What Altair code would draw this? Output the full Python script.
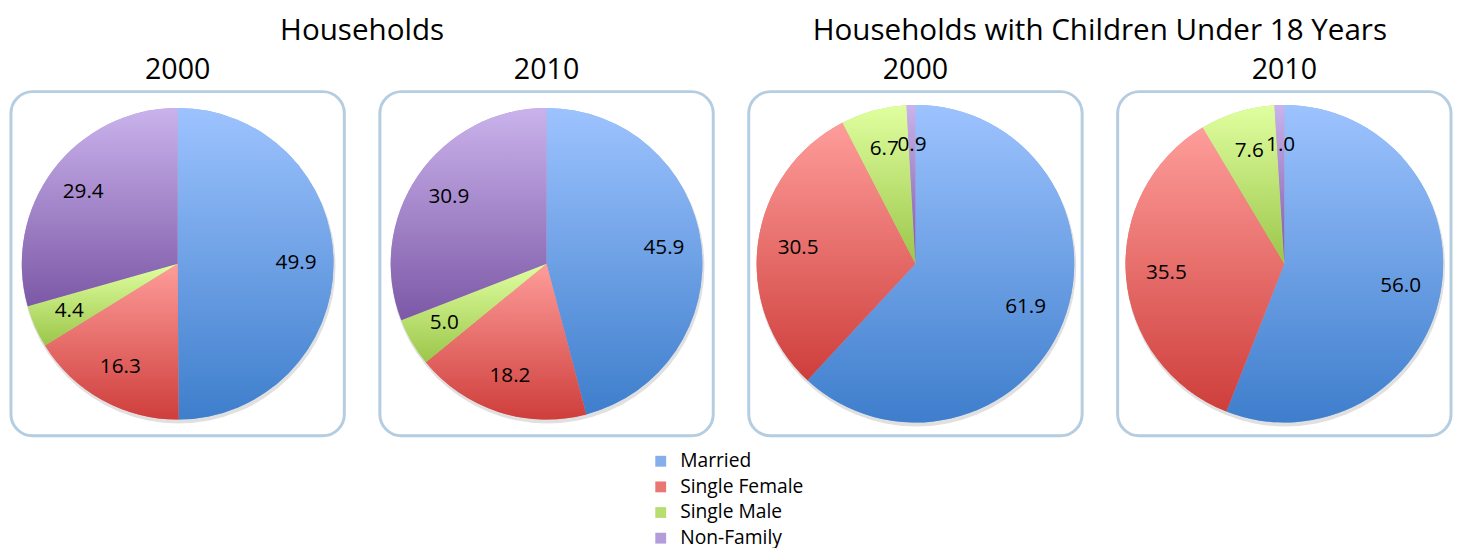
import altair as alt
import pandas as pd

categories = ["Married", "Single Female", "Single Male", "Non-Family"]
households_2000 = [49.9, 16.3, 4.4, 29.4]
households_2010 = [45.9, 18.2, 5.0, 30.9]
children_2000 = [61.9, 30.5, 6.7, 0.9]
children_2010 = [56.0, 35.5, 7.6, 1.0]

panel_keys = ["h2000", "h2010", "c2000", "c2010"]
panel_years = ["2000", "2010", "2000", "2010"]
group_titles = ["Households", "Households with Children Under 18 Years"]

legend_colors = ["#86ADEC", "#EA7674", "#B9DE70", "#B39CDB"]
grad_top = ["#9DC3FE", "#FE9D9A", "#E0FFA0", "#CAB3EC"]
grad_bottom = ["#3E7ECC", "#CE3E3B", "#9BC64A", "#7C58A6"]

FONT = "Open Sans"
BORDER = "#B5CDE1"
W, H = 338, 349

rows = []
for key, vals in zip(panel_keys, [households_2000, households_2010, children_2000, children_2010]):
    for i, (c, v) in enumerate(zip(categories, vals)):
        rows.append({"panel": key, "category": c, "value": v, "order": i})
df = pd.DataFrame(rows)


def gradient(top, bottom):
    return alt.LinearGradient(
        gradient="linear", x1=0, y1=0, x2=0, y2=1,
        stops=[alt.GradientStop(offset=0, color=top), alt.GradientStop(offset=1, color=bottom)],
    )


fill_rule = alt.when(alt.datum.category == categories[0]).then(alt.value(gradient(grad_top[0], grad_bottom[0])))
for c, t, b in zip(categories[1:3], grad_top[1:3], grad_bottom[1:3]):
    fill_rule = fill_rule.when(alt.datum.category == c).then(alt.value(gradient(t, b)))
fill_rule = fill_rule.otherwise(alt.value(gradient(grad_top[3], grad_bottom[3])))

legend = alt.Legend(
    orient="none", direction="vertical", legendX=649, legendY=365, title=None, symbolType="square",
    symbolSize=121, symbolStrokeWidth=0, labelFont=FONT, labelFontSize=19.5,
    labelColor="#000000", rowPadding=5, labelOffset=10,
)

radii = [158, 158, 161, 161]


def pie(key, year, radius):
    base = alt.Chart(df).transform_filter(alt.datum.panel == key)
    theta = alt.Theta("value:Q", stack="normalize")
    order = alt.Order("order:Q", sort="ascending")
    frame = base.transform_aggregate(total="sum(value)").mark_rect(
        fill="#FFFFFF", stroke=BORDER, strokeWidth=3, cornerRadius=22
    ).encode(x=alt.value(0), x2=alt.value(W), y=alt.value(0), y2=alt.value(H))
    shadow = base.transform_aggregate(total="sum(value)").mark_arc(
        radius=radius + 1, xOffset=1, yOffset=3, color="#000000", opacity=0.12
    ).encode(theta=alt.Theta("total:Q", stack="normalize"))
    flat = base.mark_arc(radius=radius).encode(
        theta=theta, order=order,
        color=alt.Color("category:N", scale=alt.Scale(domain=categories, range=legend_colors), legend=legend),
    )
    grad = base.mark_arc(radius=radius).encode(theta=theta, order=order, fill=fill_rule)
    labels = base.mark_text(radius=120, font=FONT, fontSize=21, color="#000000").encode(
        theta=theta, order=order, text=alt.Text("value:Q", format=".1f")
    )
    return alt.layer(frame, shadow, flat, grad, labels).properties(
        width=W, height=H,
        view=alt.ViewBackground(stroke="transparent", strokeWidth=0),
        title=alt.Title(year, font=FONT, fontSize=29, fontWeight="normal", anchor="middle", offset=5, color="#000000"),
    )


pies = [pie(k, y, r) for k, y, r in zip(panel_keys, panel_years, radii)]

left = alt.hconcat(pies[0], pies[1], spacing=32).properties(
    title=alt.Title(group_titles[0], font=FONT, fontSize=30, fontWeight="normal", anchor="middle", offset=11, color="#000000")
)
right = alt.hconcat(pies[2], pies[3], spacing=32).properties(
    title=alt.Title(group_titles[1], font=FONT, fontSize=30, fontWeight="normal", anchor="middle", offset=11, color="#000000")
)

chart = alt.hconcat(left, right, spacing=32).properties(
    padding={"left": 1, "top": 4, "right": 0, "bottom": 0}
).configure_view(
    stroke="transparent", strokeWidth=0
).configure(
    background="#FFFFFF", style={"cell": {"stroke": "transparent", "strokeWidth": 0}}
)

chart.save("out.html", embed_options={"renderer": "svg", "actions": False})
